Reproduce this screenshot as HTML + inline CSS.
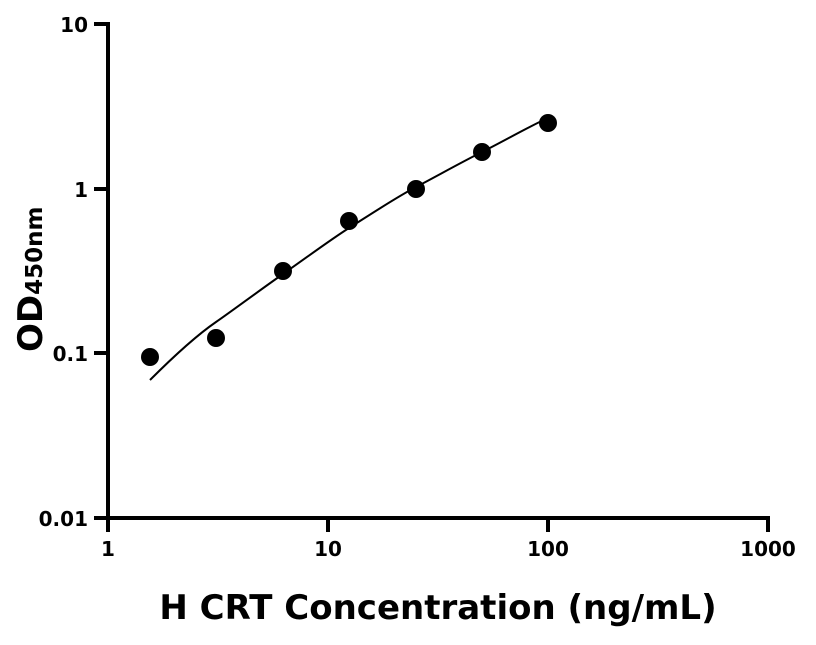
<!DOCTYPE html>
<html><head><style>body{margin:0;background:#fff}</style></head><body>
<svg width="816" height="640" xmlns="http://www.w3.org/2000/svg" font-family="DejaVu Sans, sans-serif" font-weight="bold">
<g stroke="#000" stroke-width="4" fill="none">
<line x1="108" y1="22" x2="108" y2="520"/>
<line x1="106" y1="518" x2="770" y2="518"/>
<line x1="94" y1="24" x2="108" y2="24"/>
<line x1="94" y1="189" x2="108" y2="189"/>
<line x1="94" y1="353" x2="108" y2="353"/>
<line x1="94" y1="518" x2="108" y2="518"/>
<line x1="108" y1="518" x2="108" y2="532"/>
<line x1="328" y1="518" x2="328" y2="532"/>
<line x1="548" y1="518" x2="548" y2="532"/>
<line x1="768" y1="518" x2="768" y2="532"/>
</g>
<g font-size="20" text-anchor="end">
<text x="88" y="32">10</text>
<text x="88" y="197">1</text>
<text x="88" y="361">0.1</text>
<text x="88" y="526">0.01</text>
</g>
<g font-size="20" text-anchor="middle">
<text x="108" y="556">1</text>
<text x="328" y="556">10</text>
<text x="548" y="556">100</text>
<text x="768" y="556">1000</text>
</g>
<text x="438" y="619" font-size="34" text-anchor="middle">H CRT Concentration (ng/mL)</text>
<text transform="translate(42,352) rotate(-90)" font-size="34">OD<tspan font-size="23">450nm</tspan></text>
<path d="M150,380 C180,350 200,333 216,322 S260,290 283,274 S330,240 349,228 S395,198 416,187 S460,163 482,152 S530,126 548,118" stroke="#000" stroke-width="2" fill="none"/>
<g fill="#000">
<circle cx="150" cy="357" r="9"/>
<circle cx="216" cy="338" r="9"/>
<circle cx="283" cy="271" r="9"/>
<circle cx="349" cy="221" r="9"/>
<circle cx="416" cy="189" r="9"/>
<circle cx="482" cy="152" r="9"/>
<circle cx="548" cy="123" r="9"/>
</g>
</svg>
</body></html>
